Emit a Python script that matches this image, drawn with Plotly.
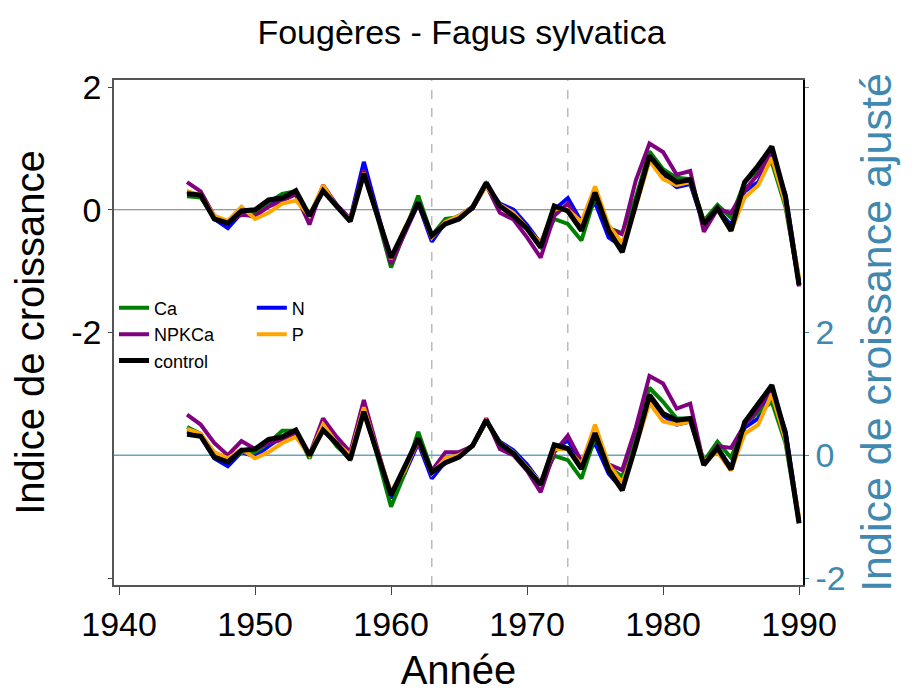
import plotly.graph_objects as go

years = list(range(1945, 1991))

# Raw growth index (left axis, upper panel)
ca_raw = [0.22, 0.20, -0.12, -0.22, -0.05, -0.05, 0.12, 0.26, 0.30, -0.10, 0.35, 0.05, -0.18, 0.60, -0.12, -0.94,
          -0.36, 0.23, -0.42, -0.15, -0.12, 0.04, 0.42, 0.06, -0.10, -0.30, -0.60, -0.15, -0.23, -0.50, 0.22, -0.30,
          -0.38, 0.20, 0.95, 0.66, 0.52, 0.50, -0.18, 0.08, -0.13, 0.45, 0.65, 0.77, 0.05, -1.20]
npkca_raw = [0.45, 0.30, -0.10, -0.20, -0.08, -0.10, 0.05, 0.15, 0.25, -0.24, 0.40, 0.08, -0.15, 0.65, -0.08, -0.88,
             -0.38, 0.10, -0.45, -0.20, -0.12, 0.02, 0.40, -0.05, -0.16, -0.45, -0.78, -0.10, 0.10, -0.25, 0.30, -0.30,
             -0.40, 0.48, 1.08, 0.94, 0.57, 0.63, -0.36, 0.01, -0.05, 0.32, 0.58, 0.97, 0.15, -1.25]
control_raw = [0.26, 0.24, -0.15, -0.22, -0.02, 0.00, 0.16, 0.19, 0.31, -0.10, 0.31, 0.07, -0.19, 0.59, -0.10, -0.78,
               -0.33, 0.12, -0.42, -0.23, -0.15, 0.04, 0.44, 0.06, -0.10, -0.31, -0.61, 0.06, -0.02, -0.34, 0.28, -0.34,
               -0.69, 0.10, 0.88, 0.61, 0.45, 0.49, -0.23, 0.02, -0.34, 0.45, 0.72, 1.03, 0.21, -1.23]
n_raw = [0.30, 0.22, -0.15, -0.30, -0.05, -0.12, 0.08, 0.18, 0.28, -0.15, 0.38, 0.08, -0.15, 0.78, -0.05, -0.85,
         -0.36, 0.10, -0.52, -0.20, -0.10, 0.05, 0.40, 0.10, 0.00, -0.25, -0.55, 0.00, 0.19, -0.20, 0.12, -0.45,
         -0.60, 0.10, 0.85, 0.55, 0.37, 0.42, -0.25, 0.00, -0.25, 0.30, 0.45, 0.90, 0.25, -1.15]
p_raw = [0.30, 0.24, -0.10, -0.18, 0.05, -0.15, -0.05, 0.10, 0.15, -0.10, 0.40, 0.05, -0.15, 0.60, -0.08, -0.80,
         -0.30, 0.12, -0.45, -0.20, -0.10, 0.05, 0.38, 0.08, -0.05, -0.30, -0.55, 0.02, 0.00, -0.20, 0.38, -0.25,
         -0.55, 0.05, 0.80, 0.50, 0.40, 0.45, -0.20, 0.00, -0.35, 0.20, 0.40, 0.85, 0.10, -1.10]

# Adjusted growth index (right axis, lower panel)
ca_adj = [0.46, 0.35, 0.00, -0.10, 0.05, 0.05, 0.20, 0.40, 0.40, -0.05, 0.45, 0.15, -0.05, 0.75, -0.02, -0.84,
          -0.30, 0.38, -0.25, -0.05, 0.00, 0.15, 0.55, 0.20, 0.05, -0.20, -0.45, -0.01, -0.08, -0.38, 0.30, -0.20,
          -0.35, 0.30, 1.10, 0.87, 0.60, 0.60, -0.10, 0.22, -0.04, 0.50, 0.70, 0.87, 0.20, -1.10]
npkca_adj = [0.66, 0.50, 0.20, 0.00, 0.23, 0.10, 0.20, 0.25, 0.35, 0.00, 0.60, 0.30, 0.05, 0.90, 0.10, -0.65,
             -0.20, 0.20, -0.25, 0.05, 0.05, 0.15, 0.60, 0.10, 0.00, -0.25, -0.60, 0.05, 0.32, -0.10, 0.30, -0.15,
             -0.24, 0.45, 1.29, 1.17, 0.76, 0.84, -0.15, 0.15, 0.12, 0.50, 0.75, 1.10, 0.35, -1.10]
control_adj = [0.34, 0.31, -0.03, -0.11, 0.08, 0.10, 0.26, 0.30, 0.41, 0.00, 0.41, 0.19, -0.07, 0.71, 0.03, -0.65,
               -0.19, 0.27, -0.28, -0.12, -0.03, 0.16, 0.57, 0.19, 0.03, -0.22, -0.48, 0.17, 0.11, -0.22, 0.36, -0.24,
               -0.57, 0.16, 0.98, 0.68, 0.57, 0.60, -0.16, 0.12, -0.23, 0.54, 0.84, 1.14, 0.35, -1.11]
n_adj = [0.38, 0.32, -0.05, -0.18, 0.05, -0.02, 0.15, 0.30, 0.40, -0.02, 0.45, 0.20, -0.05, 0.80, 0.05, -0.70,
         -0.30, 0.20, -0.38, -0.10, 0.00, 0.15, 0.55, 0.22, 0.08, -0.15, -0.45, 0.10, 0.24, -0.10, 0.20, -0.30,
         -0.55, 0.15, 0.90, 0.65, 0.50, 0.55, -0.10, 0.10, -0.20, 0.45, 0.60, 1.05, 0.40, -1.05]
p_adj = [0.43, 0.35, 0.05, -0.05, 0.10, -0.05, 0.05, 0.20, 0.30, 0.00, 0.50, 0.20, 0.00, 0.78, 0.05, -0.60,
         -0.25, 0.25, -0.30, -0.05, 0.00, 0.15, 0.55, 0.20, 0.05, -0.20, -0.45, 0.10, 0.10, -0.15, 0.50, -0.15,
         -0.45, 0.15, 0.85, 0.55, 0.50, 0.55, -0.10, 0.05, -0.25, 0.35, 0.50, 1.00, 0.25, -1.00]

period_lines = [1963, 1973]
x_ticks = [1940, 1950, 1960, 1970, 1980, 1990]
left_tickvals = [2, 0, -2, -6]
left_ticktext = ["2", "0", "-2", ""]
right_tickvals = [6, 4, 2, 0, -2]
right_ticktext = ["", "", "2", "0", "-2"]

series = [
    ("Ca", ca_raw, ca_adj, "#008000", 4, "legend", 1),
    ("N", n_raw, n_adj, "#0000ff", 4, "legend2", 1),
    ("NPKCa", npkca_raw, npkca_adj, "#800080", 4, "legend", 2),
    ("P", p_raw, p_adj, "#ffa500", 4, "legend2", 2),
    ("control", control_raw, control_adj, "#000000", 5, "legend", 3),
]
draw_order = ["N", "Ca", "NPKCa", "P", "control"]

FONT = "Liberation Sans, Arial, sans-serif"
BLUE = "#3f89b0"

# page body has an 8px default margin, so the figure is a bit smaller
W, H = 907, 685

fig = go.Figure()
lookup = {s[0]: s for s in series}
for name in draw_order:
    nm, raw, adj, col, w, leg, rank = lookup[name]
    assert len(raw) == len(years) and len(adj) == len(years)
    fig.add_trace(go.Scatter(x=years, y=raw, mode="lines", name=nm, legendgroup=nm,
                             line=dict(color=col, width=w), legend=leg, legendrank=rank,
                             yaxis="y"))
    fig.add_trace(go.Scatter(x=years, y=adj, mode="lines", name=nm, legendgroup=nm,
                             line=dict(color=col, width=w), showlegend=False,
                             yaxis="y2"))

shapes = []
for yr in period_lines:
    shapes.append(dict(type="line", xref="x", yref="paper", x0=yr, x1=yr, y0=0, y1=1,
                       line=dict(color="#999999", width=1, dash="dash"), layer="below"))
shapes.append(dict(type="line", xref="paper", yref="y", x0=0, x1=1, y0=0, y1=0,
                   line=dict(color="#777777", width=1), layer="below"))
shapes.append(dict(type="line", xref="paper", yref="y2", x0=0, x1=1, y0=0, y1=0,
                   line=dict(color="#6aa3bf", width=1.5), layer="below"))

fig.update_layout(
    width=W, height=H,
    margin=dict(l=106, r=112, t=72, b=108, autoexpand=False),
    paper_bgcolor="white", plot_bgcolor="white",
    font=dict(family=FONT, color="black"),
    title=dict(text="Fougères - Fagus sylvatica", x=0.5, xanchor="center",
               y=1 - 24 / H, yanchor="middle", yref="container",
               font=dict(size=34, color="black", family=FONT)),
    shapes=shapes,
    xaxis=dict(range=[1939.63, 1990.29], tickvals=x_ticks, showgrid=False, zeroline=False,
               showline=True, mirror=True, linecolor="#555555", linewidth=1.5,
               ticks="outside", ticklen=8, tickcolor="#444444", tickwidth=1,
               tickfont=dict(size=34, family=FONT),
               title=dict(text="Année", font=dict(size=40, family=FONT), standoff=14),
               automargin=False),
    yaxis=dict(range=[-6.114, 2.114], tickvals=left_tickvals, ticktext=left_ticktext,
               showgrid=False, zeroline=False, showline=True, linecolor="#555555", linewidth=1.5,
               ticks="outside", ticklen=4, tickcolor="#444444",
               tickfont=dict(size=34, family=FONT),
               title=dict(text="Indice de croissance", font=dict(size=40, family=FONT), standoff=14),
               automargin=False),
    yaxis2=dict(range=[-2.114, 6.114], tickvals=right_tickvals, ticktext=right_ticktext,
                overlaying="y", side="right", showgrid=False, zeroline=False,
                showline=True, linecolor="black", linewidth=1.5,
                ticks="outside", ticklen=4, tickcolor=BLUE,
                tickfont=dict(size=34, family=FONT, color=BLUE),
                title=dict(text="Indice de croissance ajusté", font=dict(size=43, family=FONT, color=BLUE),
                           standoff=16),
                automargin=False),
    legend=dict(x=0.0, y=0.585, xanchor="left", yanchor="top", bgcolor="rgba(0,0,0,0)",
                font=dict(size=18, family=FONT), itemwidth=30, tracegroupgap=0),
    legend2=dict(x=0.2, y=0.585, xanchor="left", yanchor="top", bgcolor="rgba(0,0,0,0)",
                 font=dict(size=18, family=FONT), itemwidth=30, tracegroupgap=0),
)

fig.write_html("out.html")
